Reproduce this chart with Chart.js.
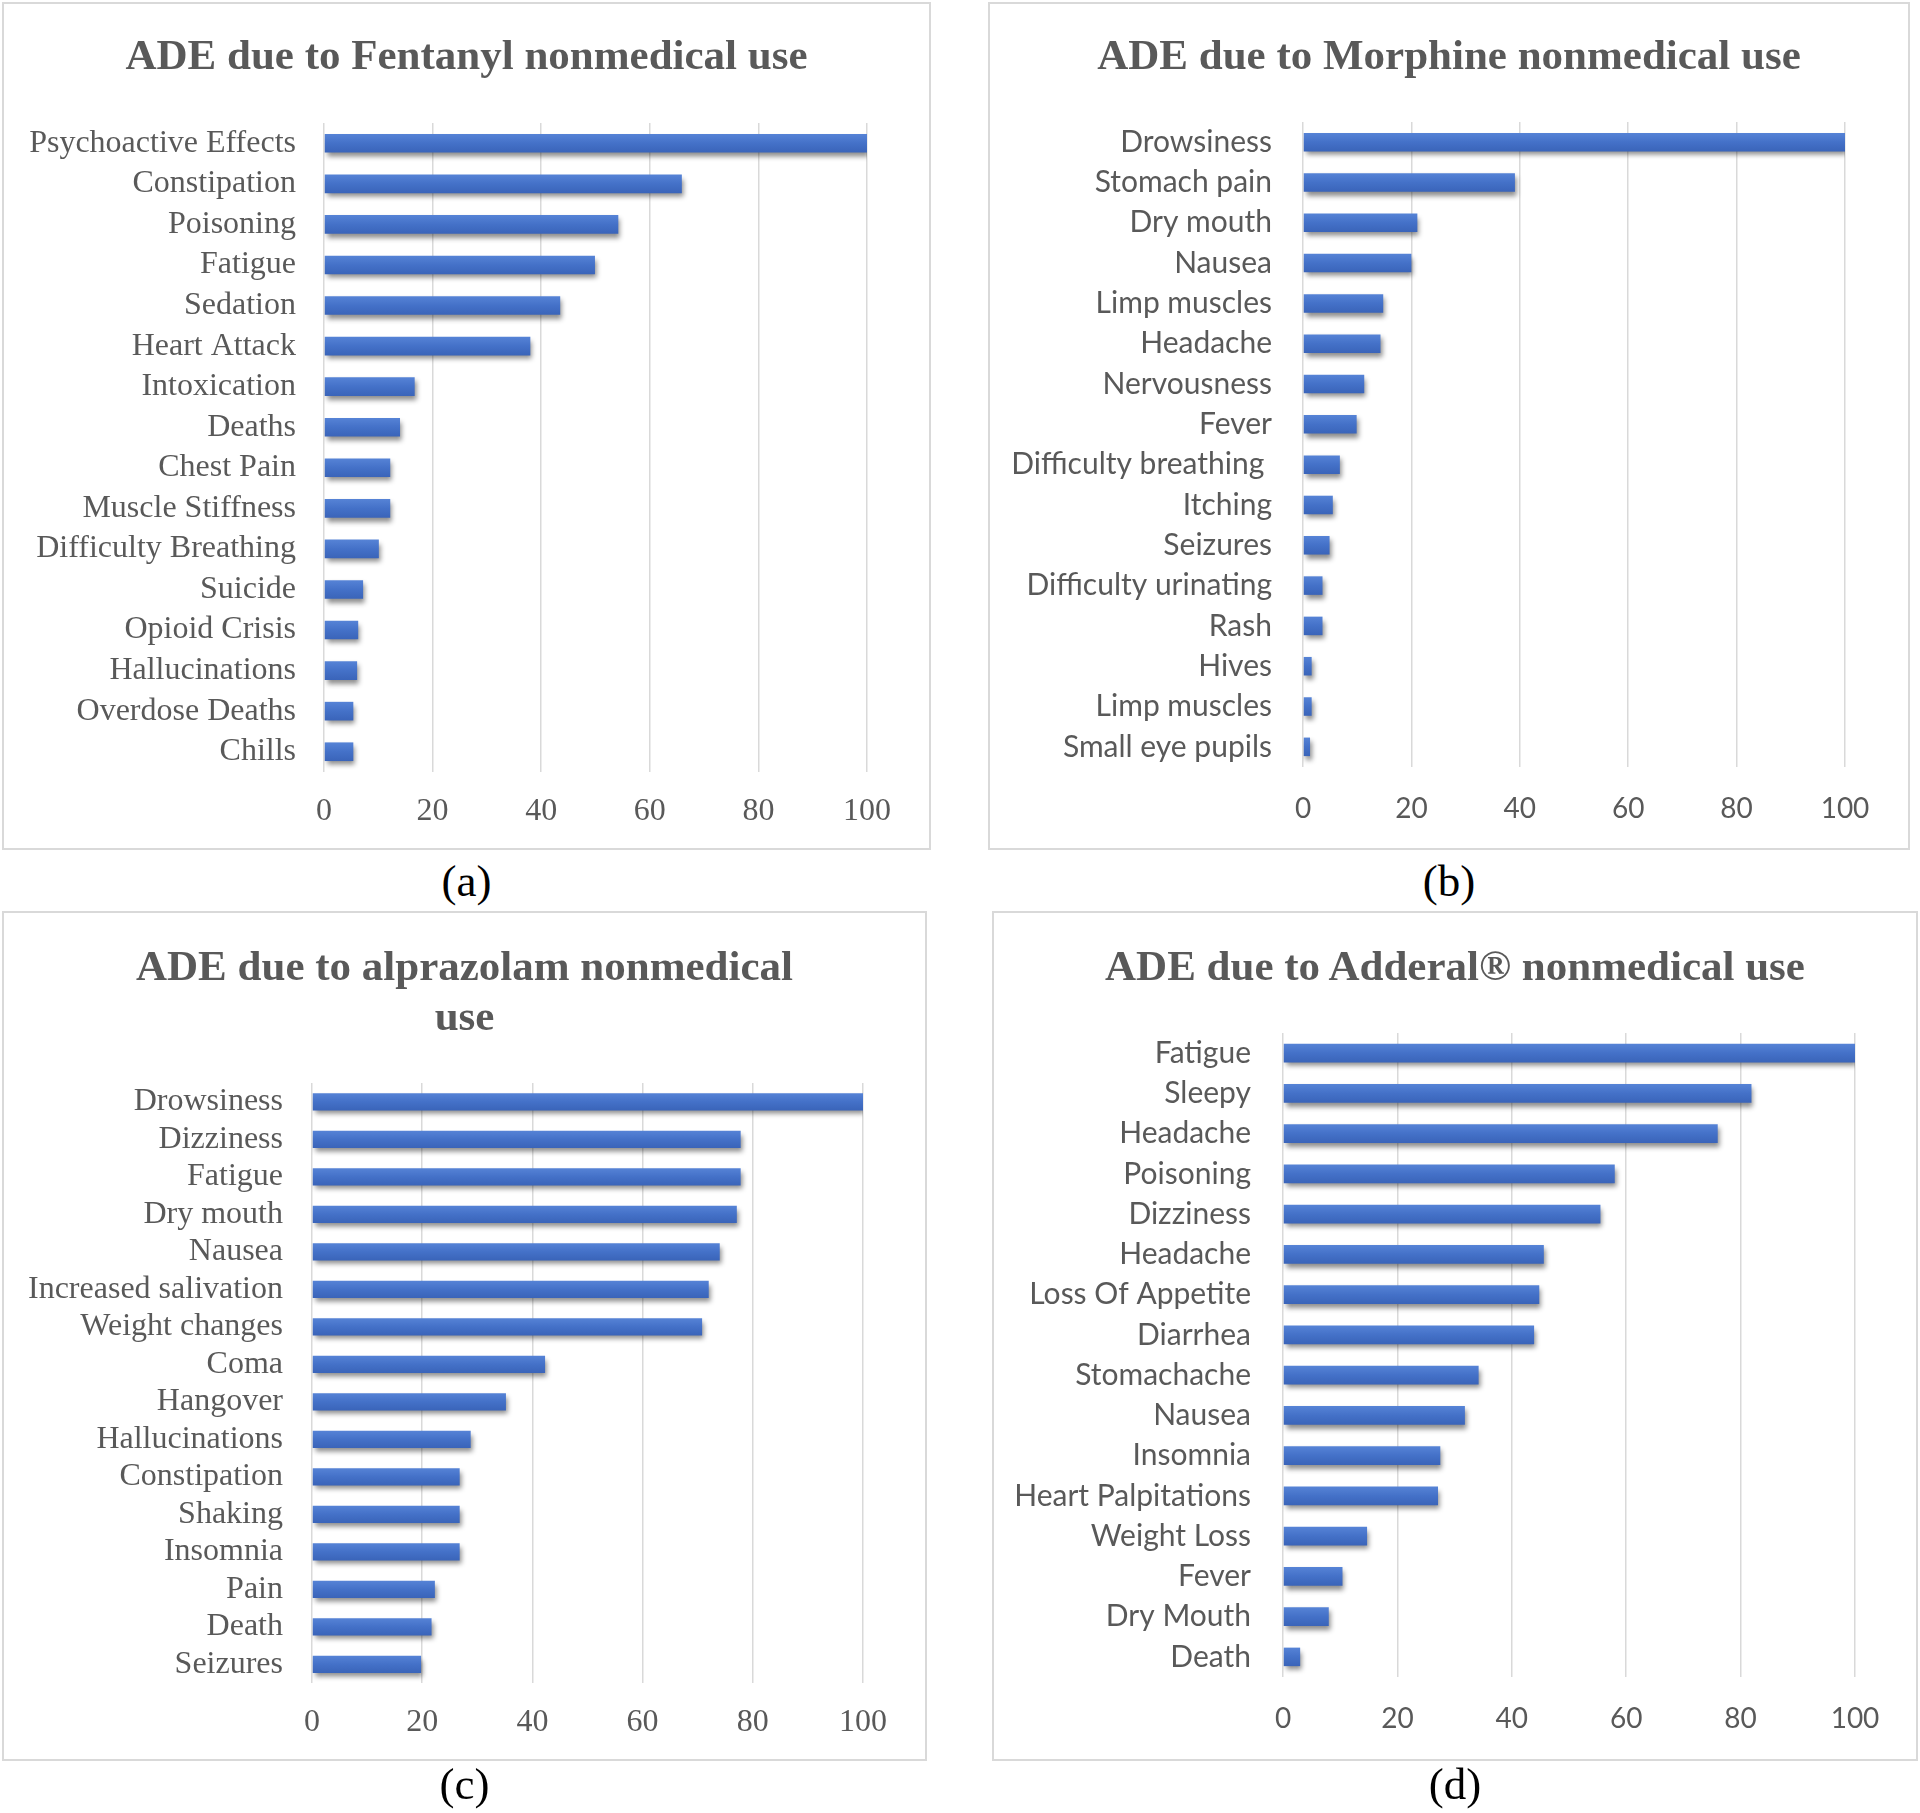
<!DOCTYPE html>
<html>
<head>
<meta charset="utf-8">
<script src="https://cdn.jsdelivr.net/npm/chart.js@4"></script>
<style>
    body { margin: 0; background: #fff; width: 1920px; height: 1813px; position: relative; overflow: hidden; }
    canvas { position: absolute; }
    .frame { position: absolute; border: 2px solid #d9d9d9; box-sizing: border-box; pointer-events: none; }
    .title { position: absolute; text-align: center; font-family: "Liberation Serif", serif; font-weight: bold;
             font-size: 43px; line-height: 50px; color: #595959; white-space: nowrap; }
    .caption { position: absolute; text-align: center; font-family: "Liberation Serif", serif;
               font-size: 45px; line-height: 50px; color: #000; width: 200px; }
</style>
</head>
<body>
<canvas id="chart-a"></canvas>
<canvas id="chart-b"></canvas>
<canvas id="chart-c"></canvas>
<canvas id="chart-d"></canvas>
<script>
// (a) Fentanyl
var fentanylLabels = ['Psychoactive Effects', 'Constipation', 'Poisoning', 'Fatigue', 'Sedation', 'Heart Attack',
    'Intoxication', 'Deaths', 'Chest Pain', 'Muscle Stiffness', 'Difficulty Breathing', 'Suicide',
    'Opioid Crisis', 'Hallucinations', 'Overdose Deaths', 'Chills'];
var fentanylValues = [100, 65.9, 54.2, 49.9, 43.5, 38.0, 16.7, 14.0, 12.2, 12.2, 10.1, 7.2, 6.3, 6.1, 5.4, 5.4];

// (b) Morphine
var morphineLabels = ['Drowsiness', 'Stomach pain', 'Dry mouth', 'Nausea', 'Limp muscles', 'Headache',
    'Nervousness', 'Fever', 'Difficulty breathing ', 'Itching', 'Seizures', 'Difficulty urinating',
    'Rash', 'Hives', 'Limp muscles', 'Small eye pupils'];
var morphineValues = [100, 39.1, 21.1, 20.0, 14.8, 14.3, 11.3, 9.9, 6.8, 5.5, 4.9, 3.6, 3.6, 1.6, 1.6, 1.3];

// (c) Alprazolam
var alprazolamLabels = ['Drowsiness', 'Dizziness', 'Fatigue', 'Dry mouth', 'Nausea', 'Increased salivation',
    'Weight changes', 'Coma', 'Hangover', 'Hallucinations', 'Constipation', 'Shaking', 'Insomnia',
    'Pain', 'Death', 'Seizures'];
var alprazolamValues = [100, 77.8, 77.8, 77.1, 74.0, 72.0, 70.8, 42.3, 35.2, 28.8, 26.8, 26.8, 26.8, 22.3, 21.7, 19.8];

// (d) Adderal
var adderalLabels = ['Fatigue', 'Sleepy', 'Headache', 'Poisoning', 'Dizziness', 'Headache', 'Loss Of Appetite',
    'Diarrhea', 'Stomachache', 'Nausea', 'Insomnia', 'Heart Palpitations', 'Weight Loss', 'Fever',
    'Dry Mouth', 'Death'];
var adderalValues = [100, 81.9, 76.0, 58.0, 55.5, 45.6, 44.8, 43.9, 34.2, 31.8, 27.5, 27.1, 14.7, 10.4, 8.0, 3.0];

var xTickValues = [0, 20, 40, 60, 80, 100];
var titles = ['ADE due to Fentanyl nonmedical use', 'ADE due to Morphine nonmedical use',
    'ADE due to alprazolam nonmedical<br>use', 'ADE due to Adderal® nonmedical use'];
var captions = ['(a)', '(b)', '(c)', '(d)'];

const SERIF = '"Liberation Serif", serif';
const SANS = 'Lato, "Noto Sans", sans-serif';
const BAR_PCT = 0.46;

// panel box + plot area (inside canvas), in page pixels
var panels = [
    { id: 'chart-a', box: [2, 2, 929, 848], plot: [322, 865, 121, 770], gap: 28, font: SERIF, titleY: 30, capY: 856,
      labels: fentanylLabels, values: fentanylValues },
    { id: 'chart-b', box: [988, 2, 922, 848], plot: [315, 857, 120, 765], gap: 31, font: SANS, titleY: 30, capY: 856,
      labels: morphineLabels, values: morphineValues },
    { id: 'chart-c', box: [2, 911, 925, 850], plot: [310, 861, 172, 772], gap: 29, font: SERIF, titleY: 941, capY: 1759,
      labels: alprazolamLabels, values: alprazolamValues },
    { id: 'chart-d', box: [992, 911, 926, 850], plot: [291, 863, 122, 766], gap: 32, font: SANS, titleY: 941, capY: 1759,
      labels: adderalLabels, values: adderalValues },
];

// soft drop shadow under the bars, like the Excel look
const barShadow = {
    id: 'barShadow',
    beforeDatasetsDraw(chart) {
        const c = chart.ctx;
        c.save();
        c.shadowColor = 'rgba(0, 0, 0, 0.45)';
        c.shadowBlur = 5;
        c.shadowOffsetX = 2;
        c.shadowOffsetY = 4;
    },
    afterDatasetsDraw(chart) {
        chart.ctx.restore();
    }
};

// light-to-dark fill across each bar
function barFill(context) {
    const chart = context.chart;
    const y = chart.scales.y;
    if (!y || context.dataIndex === undefined) return '#4472C4';
    const mid = y.getPixelForValue(context.dataIndex);
    const half = Math.abs(y.getPixelForValue(1) - y.getPixelForValue(0)) * BAR_PCT / 2;
    if (!isFinite(mid) || !half) return '#4472C4';
    const g = chart.ctx.createLinearGradient(0, mid - half, 0, mid + half);
    g.addColorStop(0, '#5683d6');
    g.addColorStop(0.5, '#4471c8');
    g.addColorStop(1, '#3a64b9');
    return g;
}

function makePanel(p, idx) {
    const [bx, by, bw, bh] = p.box;
    const [left, right, top, bottom] = p.plot;
    const xAxisH = 60;
    const sans = p.font === SANS;

    const cv = document.getElementById(p.id);
    cv.width = bw;
    cv.height = bh;
    cv.style.left = bx + 'px';
    cv.style.top = by + 'px';

    const frame = document.createElement('div');
    frame.className = 'frame';
    frame.style.left = bx + 'px';
    frame.style.top = by + 'px';
    frame.style.width = bw + 'px';
    frame.style.height = bh + 'px';
    document.body.appendChild(frame);

    const t = document.createElement('div');
    t.className = 'title';
    t.innerHTML = titles[idx];
    t.style.left = bx + 'px';
    t.style.width = bw + 'px';
    t.style.top = p.titleY + 'px';
    document.body.appendChild(t);

    const cap = document.createElement('div');
    cap.className = 'caption';
    cap.textContent = captions[idx];
    cap.style.left = (bx + bw / 2 - 100) + 'px';
    cap.style.top = p.capY + 'px';
    document.body.appendChild(cap);

    return new Chart(cv.getContext('2d'), {
        type: 'bar',
        data: {
            labels: p.labels,
            datasets: [{
                data: p.values,
                backgroundColor: barFill,
                borderWidth: 0,
                barPercentage: BAR_PCT,
                categoryPercentage: 1,
            }]
        },
        options: {
            indexAxis: 'y',
            responsive: false,
            animation: false,
            layout: {
                padding: { left: 0, right: bw - right, top: top, bottom: bh - bottom - xAxisH }
            },
            scales: {
                x: {
                    min: 0,
                    max: 100,
                    afterBuildTicks: (scale) => { scale.ticks = xTickValues.map(v => ({ value: v })); },
                    afterFit: (scale) => { scale.height = xAxisH; },
                    grid: { color: '#d9d9d9', lineWidth: 1.5, drawTicks: false },
                    border: { display: false },
                    ticks: { color: '#595959', padding: sans ? 25 : 20, font: { family: p.font, size: sans ? 28 : 32 } },
                },
                y: {
                    afterFit: (scale) => { scale.width = left; },
                    grid: { display: false, drawTicks: false },
                    border: { display: false },
                    ticks: { color: '#595959', padding: p.gap, autoSkip: false, font: { family: p.font, size: sans ? 30 : 32 } },
                },
            },
            plugins: {
                legend: { display: false },
                tooltip: { enabled: false },
            },
        },
        plugins: [barShadow],
    });
}

panels.forEach(makePanel);
</script>
</body>
</html>
